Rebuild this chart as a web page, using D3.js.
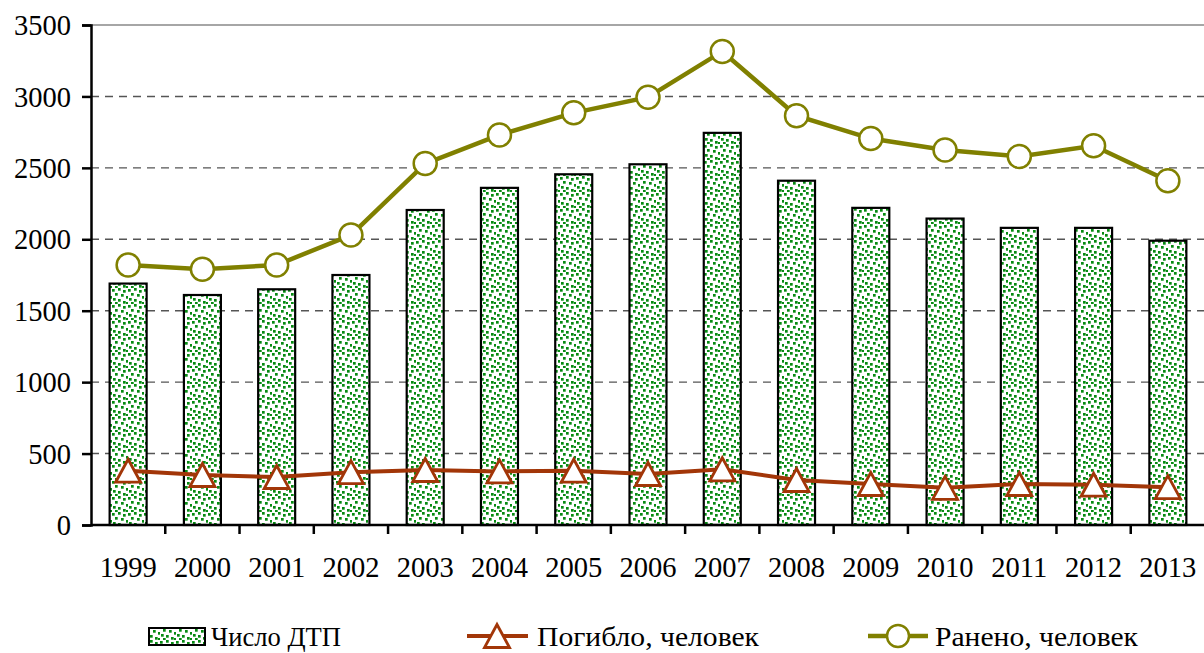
<!DOCTYPE html>
<html><head><meta charset="utf-8">
<script src="https://cdn.jsdelivr.net/npm/d3@7"></script>
<style>body{margin:0;background:#fff}svg{display:block}svg text{font-family:"Liberation Serif","Times New Roman","DejaVu Serif",serif !important}</style>
</head><body><svg id="c" width="1204" height="653"></svg>
<script>
const years = ["1999","2000","2001","2002","2003","2004","2005","2006","2007","2008","2009","2010","2011","2012","2013"];
const accidents = [1690,1610,1650,1750,2205,2360,2455,2525,2745,2410,2220,2145,2080,2080,1990];
const killed = [380,350,336,370,385,375,380,357,390,315,287,260,287,282,265];
const injured = [1820,1790,1820,2030,2530,2730,2885,2995,3315,2865,2705,2625,2580,2655,2410];
const yTicks = [0,500,1000,1500,2000,2500,3000,3500];
const legendLabels = ["Число ДТП","Погибло, человек","Ранено, человек"];

const FONT = "Liberation Serif";
const svg = d3.select("#c");
const L = 91, R = 1205, T = 25, B = 525;
const x = d3.scaleBand().domain(years).range([L, R]);
const y = d3.scaleLinear().domain([0,3500]).range([B, T]);

// pattern
const defs = svg.append("defs");
const pat = defs.append("pattern").attr("id","dots").attr("patternUnits","userSpaceOnUse").attr("width",16).attr("height",16);
pat.append("rect").attr("width",16).attr("height",16).attr("fill","#fff");
[[0,1],[6,0],[11,2],[3,5],[9,6],[14,8],[1,10],[6,11],[11,13],[3,14],[14,14]].forEach(([a,b])=>{
  pat.append("rect").attr("x",a).attr("y",b).attr("width",2.7).attr("height",2.7).attr("fill","#078a12");
});

// grid
svg.append("g").selectAll("line").data(yTicks.filter(d=>d>0 && d<3500)).join("line")
  .attr("x1",L).attr("x2",R).attr("y1",d=>y(d)).attr("y2",d=>y(d))
  .attr("stroke","#555").attr("stroke-width",1.4).attr("stroke-dasharray","8,6");
svg.append("line").attr("x1",L).attr("x2",R).attr("y1",y(3500)).attr("y2",y(3500)).attr("stroke","#888").attr("stroke-width",1.5);

// bars
const bw = 37;
svg.append("g").selectAll("rect").data(accidents).join("rect")
  .attr("x",(d,i)=>x(years[i])+x.bandwidth()/2-bw/2).attr("width",bw)
  .attr("y",d=>y(d)).attr("height",d=>B-y(d))
  .attr("fill","url(#dots)").attr("stroke","#000").attr("stroke-width",2.2);

// axes
const FS = "28.5px";
const yAxis = svg.append("g").attr("transform",`translate(${L},0)`).call(d3.axisLeft(y).tickValues(yTicks).tickSize(9).tickFormat(d3.format("d")));
const xAxis = svg.append("g").attr("transform",`translate(0,${B})`).call(d3.axisBottom(x).tickSize(0).tickPadding(32));
[yAxis,xAxis].forEach(g=>{
  g.attr("font-family",FONT);
  g.select(".domain").attr("stroke","#000").attr("stroke-width",2.5);
  g.selectAll(".tick line").attr("stroke","#000").attr("stroke-width",2.5);
  g.selectAll("text").attr("fill","#000").style("font-family",FONT).style("font-size",FS);
});
yAxis.selectAll("text").attr("x",-20).attr("dy","0.34em");
xAxis.select(".domain").attr("d",`M${L},0H${R}`);
svg.append("g").selectAll("line").data(years.slice(1)).join("line")
  .attr("x1",d=>x(d)).attr("x2",d=>x(d)).attr("y1",B).attr("y2",B+9)
  .attr("stroke","#000").attr("stroke-width",2.5);

const cx = i => x(years[i]) + x.bandwidth()/2;
const line = d3.line().x((d,i)=>cx(i)).y(d=>y(d));
const triPath = "M0,-11.5L12.5,11.5L-12.5,11.5Z";

// killed
const kc = "#a23608";
svg.append("path").datum(killed).attr("d",line).attr("fill","none").attr("stroke",kc).attr("stroke-width",4);
svg.append("g").selectAll("path").data(killed).join("path")
  .attr("d",triPath).attr("transform",(d,i)=>`translate(${cx(i)},${y(d)})`)
  .attr("fill","#fff").attr("stroke",kc).attr("stroke-width",2.8);

// injured
const ic = "#808000";
svg.append("path").datum(injured).attr("d",line).attr("fill","none").attr("stroke",ic).attr("stroke-width",4.5);
svg.append("g").selectAll("circle").data(injured).join("circle")
  .attr("cx",(d,i)=>cx(i)).attr("cy",d=>y(d)).attr("r",11.5)
  .attr("fill","#fff").attr("stroke",ic).attr("stroke-width",2.5);

// legend
const lg = svg.append("g");
const ly = 636;
const widths = [130,222,203];
lg.append("rect").attr("x",149).attr("y",628).attr("width",56).attr("height",17).attr("fill","url(#dots)").attr("stroke","#000").attr("stroke-width",2);
lg.append("line").attr("x1",467).attr("x2",528).attr("y1",ly).attr("y2",ly).attr("stroke",kc).attr("stroke-width",4);
lg.append("path").attr("d",triPath).attr("transform",`translate(497,${ly})`).attr("fill","#fff").attr("stroke",kc).attr("stroke-width",2.8);
lg.append("line").attr("x1",868).attr("x2",928).attr("y1",ly).attr("y2",ly).attr("stroke",ic).attr("stroke-width",4.5);
lg.append("circle").attr("cx",898).attr("cy",ly).attr("r",11).attr("fill","#fff").attr("stroke",ic).attr("stroke-width",2.5);
lg.selectAll("text.lt").data(legendLabels).join("text").attr("class","lt")
  .attr("x",(d,i)=>[211,537,935][i]).attr("y",ly).attr("dy","0.34em")
  .attr("textLength",(d,i)=>widths[i]).attr("lengthAdjust","spacingAndGlyphs")
  .attr("fill","#000").style("font-family",FONT).style("font-size","28px").text(d=>d);
</script></body></html>
